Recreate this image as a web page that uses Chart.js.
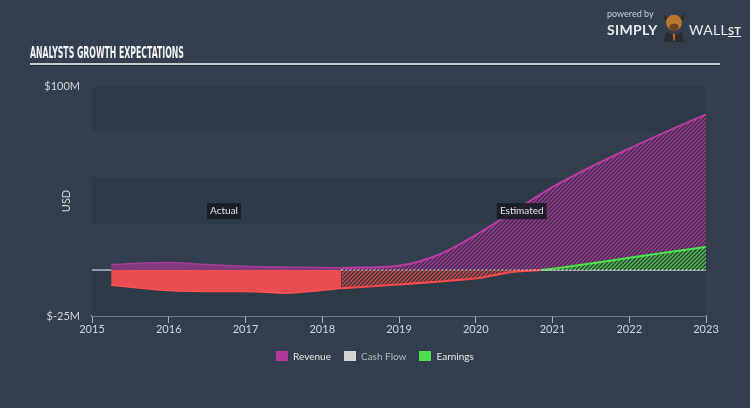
<!DOCTYPE html>
<html>
<head>
<meta charset="utf-8">
<script src="https://cdn.jsdelivr.net/npm/chart.js@4.4.1/dist/chart.umd.min.js"></script>
<style>
  html, body { margin: 0; padding: 0; }
  body { width: 750px; height: 408px; background: #333f4e; position: relative; overflow: hidden; font-family: Lato, "Open Sans", sans-serif; }
  #chart { position: absolute; left: 0; top: 0; }
  .title { position: absolute; left: 30px; top: 43px; color: #f2f4f6; font: bold 16px "Liberation Sans Narrow", "DejaVu Sans Condensed", sans-serif; transform: scaleX(0.54); transform-origin: left top; white-space: nowrap; }
  .rule { position: absolute; left: 30px; top: 63px; width: 690px; height: 2px; background: #c3cad1; box-shadow: 0 1px 0 #1f2833; }
  .logo { position: absolute; left: 607px; top: 8px; color: #e8eaec; white-space: nowrap; }
  .logo .pb { font-size: 9px; color: #c9cdd2; position: absolute; left: 0; top: 0; }
  .logo .simply { position: absolute; left: 0; top: 13px; font: bold 14px Lato, sans-serif; letter-spacing: 0.3px; }
  .logo .bull { position: absolute; left: 52px; top: 0px; width: 30px; height: 34px; }
  .logo .wall { position: absolute; left: 82px; top: 13px; font: 14px Lato, sans-serif; letter-spacing: 0.3px; }
  .logo .st { font-weight: bold; text-decoration: underline; font-size: 11px; }
  .legend { position: absolute; top: 350px; left: 0; width: 750px; display: flex; justify-content: center; gap: 13px; font-size: 10px; }
  .legend span.item { display: flex; align-items: center; color: #e4e6e8; }
  .legend i { display: inline-block; width: 12px; height: 10px; margin-right: 5px; }
</style>
</head>
<body>
<canvas id="chart" width="750" height="408"></canvas>
<div class="title">ANALYSTS GROWTH EXPECTATIONS</div>
<div class="rule"></div>
<div class="logo">
  <div class="pb">powered by</div>
  <div class="simply">SIMPLY</div>
  <svg class="bull" viewBox="0 0 26 30">
    <path d="M3 4 L7 9 L19 9 L23 4 L21 11 L5 11 Z" fill="#3b2a1c"/>
    <ellipse cx="13" cy="13" rx="7" ry="7" fill="#b9772f"/>
    <ellipse cx="13" cy="17" rx="4" ry="3" fill="#6b4322"/>
    <path d="M4 30 L6 21 L13 24 L20 21 L22 30 Z" fill="#2a2c30"/>
    <path d="M12 23 L14 23 L13.5 29 L12.5 29 Z" fill="#e0642a"/>
  </svg>
  <div class="wall">WALL<span class="st">ST</span></div>
</div>
<div class="legend">
  <span class="item"><i style="background:#b0399b"></i>Revenue</span>
  <span class="item" style="color:#b4b9be"><i style="background:#d3d3d3"></i>Cash Flow</span>
  <span class="item"><i style="background:#4ddd4d"></i>Earnings</span>
</div>
<script>
// values in $M, x = fractional year
const revActualYears = [2015.25, 2015.75, 2016, 2016.5, 2017, 2017.5, 2018, 2018.25];
const revActual = [3.0, 3.9, 4.1, 3.0, 2.0, 1.6, 1.3, 1.2];
const revEstYears = [2018.25, 2019, 2019.5, 2020, 2020.5, 2021, 2021.5, 2022, 2022.5, 2023];
const revEst = [1.2, 2.3, 8.0, 19, 32, 45, 56, 66, 75.5, 84.5];
const earnActualYears = [2015.25, 2015.75, 2016, 2016.5, 2017, 2017.5, 2018, 2018.25];
const earnActual = [-8.3, -10.3, -11.2, -11.7, -11.7, -12.6, -11.0, -9.9];
const earnEstYears = [2018.25, 2019, 2019.5, 2020, 2020.5, 2020.85, 2021, 2021.5, 2022, 2022.5, 2023];
const earnEst = [-9.9, -7.9, -6.4, -4.5, -1.0, 0, 0.7, 3.5, 6.6, 9.6, 12.5];
const cashFlowYears = [2018.25, 2023];
const cashFlow = [0, 0];
const yTickLabels = { 100: '$100M', '-25': '$-25M' };
const notes = [
    { text: 'Actual', x: 2016.72, y: 32 },
    { text: 'Estimated', x: 2020.6, y: 32 }
];

function pts(xs, ys) {
    return xs.map((x, i) => ({ x: x, y: ys[i] }));
}

var ctx = document.getElementById('chart').getContext('2d');

function hatch(fg, bg) {
    var c = document.createElement('canvas');
    c.width = 4; c.height = 4;
    var g = c.getContext('2d');
    g.fillStyle = bg;
    g.fillRect(0, 0, 4, 4);
    g.strokeStyle = fg;
    g.lineWidth = 1.4;
    g.beginPath();
    g.moveTo(0, 4); g.lineTo(4, 0);
    g.moveTo(-1, 1); g.lineTo(1, -1);
    g.moveTo(3, 5); g.lineTo(5, 3);
    g.stroke();
    return ctx.createPattern(c, 'repeat');
}

const purpleHatch = hatch('#a23c95', '#3a2d47');
const redHatch = hatch('#d24a4c', '#38343f');
const greenHatch = hatch('#4fc24f', '#2d3f3b');

// darker horizontal bands, zero line + annotation boxes
const bandsPlugin = {
    id: 'bands',
    beforeDatasetsDraw(chart) {
        const { ctx, chartArea: a, scales: { y } } = chart;
        ctx.save();
        ctx.fillStyle = '#2d3a48';
        [[100, 75], [50, 25], [0, -25]].forEach(b => {
            const t = y.getPixelForValue(b[0]);
            const btm = y.getPixelForValue(b[1]);
            ctx.fillRect(a.left, t, a.right - a.left, btm - t);
        });
        const z = y.getPixelForValue(0);
        ctx.strokeStyle = '#b3bbc3';
        ctx.lineWidth = 1.5;
        ctx.beginPath();
        ctx.moveTo(a.left, z);
        ctx.lineTo(a.right, z);
        ctx.stroke();
        ctx.restore();
    },
    afterDatasetsDraw(chart) {
        const { ctx, scales: { x, y } } = chart;
        ctx.save();
        ctx.font = '10px Lato, sans-serif';
        ctx.textAlign = 'center';
        ctx.textBaseline = 'middle';
        notes.forEach(n => {
            const px = x.getPixelForValue(n.x);
            const py = y.getPixelForValue(n.y);
            const w = ctx.measureText(n.text).width + 6;
            ctx.fillStyle = 'rgba(24, 29, 36, 0.9)';
            ctx.fillRect(px - w / 2, py - 8, w, 16);
            ctx.fillStyle = '#e2e4e6';
            ctx.fillText(n.text, px, py);
        });
        ctx.restore();
    }
};

new Chart(ctx, {
    type: 'line',
    data: {
        datasets: [
            {
                label: 'Cash Flow',
                data: pts(cashFlowYears, cashFlow),
                borderColor: '#d8d8d8',
                borderWidth: 1,
                borderDash: [2, 2],
                pointRadius: 0,
                fill: false,
                order: 0
            },
            {
                label: 'Earnings',
                data: pts(earnActualYears, earnActual),
                borderColor: '#ff5151',
                backgroundColor: '#e94c51',
                borderWidth: 1.5,
                pointRadius: 0,
                cubicInterpolationMode: 'monotone',
                fill: 'origin',
                order: 1
            },
            {
                label: 'Earnings est',
                data: pts(earnEstYears, earnEst),
                borderWidth: 2,
                pointRadius: 0,
                cubicInterpolationMode: 'monotone',
                segment: {
                    borderColor: c => (c.p0.parsed.y + c.p1.parsed.y) / 2 >= 0 ? '#4de34d' : '#ff4a4a'
                },
                fill: { target: 'origin', above: greenHatch, below: redHatch },
                order: 1
            },
            {
                label: 'Revenue',
                data: pts(revActualYears, revActual),
                borderColor: '#a63b95',
                backgroundColor: '#80397a',
                borderWidth: 1.5,
                pointRadius: 0,
                cubicInterpolationMode: 'monotone',
                fill: 'origin',
                order: 2
            },
            {
                label: 'Revenue est',
                data: pts(revEstYears, revEst),
                borderColor: '#b83da3',
                backgroundColor: purpleHatch,
                borderWidth: 2,
                pointRadius: 0,
                tension: 0.35,
                fill: 'origin',
                order: 2
            }
        ]
    },
    options: {
        responsive: false,
        animation: false,
        layout: { padding: { left: 30, right: 44, top: 86, bottom: 61 } },
        plugins: {
            legend: { display: false },
            tooltip: { enabled: false }
        },
        scales: {
            x: {
                type: 'linear',
                min: 2015,
                max: 2023,
                afterFit: s => { s.height = 31; },
                ticks: {
                    stepSize: 1,
                    color: '#cfd4d9',
                    font: { family: 'Lato', size: 11 },
                    padding: 0,
                    maxRotation: 0,
                    callback: v => String(v)
                },
                grid: {
                    drawOnChartArea: false,
                    drawTicks: true,
                    tickLength: 7,
                    color: '#a6afb8'
                },
                border: { display: true, color: '#a6afb8', width: 1.5 }
            },
            y: {
                min: -25,
                max: 100,
                afterFit: s => { s.width = 62; },
                ticks: {
                    stepSize: 25,
                    color: '#cfd4d9',
                    font: { family: 'Lato', size: 11 },
                    padding: 12,
                    callback: v => yTickLabels[v] || ''
                },
                grid: { display: false, drawTicks: false },
                border: { display: false },
                title: {
                    display: true,
                    text: 'USD',
                    color: '#cfd4d9',
                    font: { family: 'Lato', size: 11 },
                    padding: { top: 30, bottom: 0 }
                }
            }
        }
    },
    plugins: [bandsPlugin]
});
</script>
</body>
</html>
